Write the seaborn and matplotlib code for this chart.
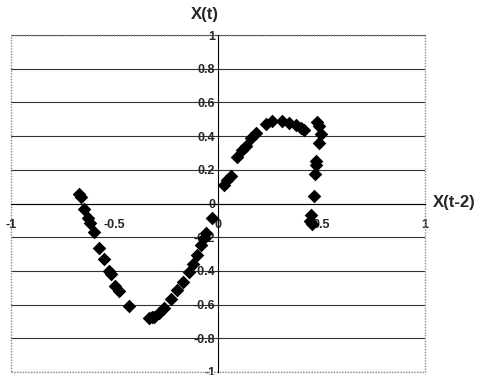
import matplotlib
matplotlib.use("Agg")
import matplotlib.pyplot as plt
import seaborn as sns
import pandas as pd
from matplotlib.patches import Rectangle

# X(t-2) values and X(t) values
x_lag = [-0.671, -0.662, -0.647, -0.628, -0.618, -0.599, -0.575, -0.551, -0.527, -0.517,
         -0.498, -0.478, -0.430, -0.333, -0.320, -0.309, -0.285, -0.261, -0.227, -0.198,
         -0.169, -0.140, -0.121, -0.101, -0.082, -0.068, -0.058, -0.029,
         0.029, 0.043, 0.063, 0.092, 0.116, 0.135, 0.159, 0.184, 0.232, 0.261, 0.309,
         0.343, 0.377, 0.401, 0.415, 0.478, 0.488, 0.498, 0.488, 0.473, 0.473, 0.469,
         0.464, 0.449, 0.444, 0.454]
x_t = [0.059, 0.036, -0.030, -0.089, -0.113, -0.172, -0.267, -0.332, -0.398, -0.421,
       -0.487, -0.522, -0.611, -0.677, -0.675, -0.671, -0.647, -0.623, -0.564, -0.516,
       -0.463, -0.409, -0.362, -0.303, -0.249, -0.202, -0.178, -0.089,
       0.107, 0.137, 0.166, 0.273, 0.315, 0.344, 0.386, 0.421, 0.469, 0.487, 0.487,
       0.475, 0.463, 0.451, 0.439, 0.481, 0.457, 0.415, 0.362, 0.255, 0.226, 0.178,
       0.042, -0.071, -0.101, -0.119]

x_ticks = [-1, -0.5, 0, 0.5, 1]
x_tick_labels = ["-1", "-0.5", "0", "0.5", "1"]
y_ticks = [-1, -0.8, -0.6, -0.4, -0.2, 0, 0.2, 0.4, 0.6, 0.8, 1]
y_tick_labels = ["-1", "-0.8", "-0.6", "-0.4", "-0.2", "0", "0.2", "0.4", "0.6", "0.8", "1"]

df = pd.DataFrame({"X(t-2)": x_lag, "X(t)": x_t})

sns.set_style("white")
plt.rcParams['font.family'] = ['Liberation Sans', 'DejaVu Sans']

fig = plt.figure(figsize=(4.91, 3.75), dpi=100)
ax = fig.add_axes([11/491, 1 - 372/375, (425 - 11)/491, (372 - 35)/375])

ax.set_xlim(-1, 1)
ax.set_ylim(-1, 1)

for yv in y_ticks:
    ax.axhline(yv, color="#333333", lw=0.8, zorder=0.5)

for side in ["top", "right"]:
    ax.spines[side].set_visible(False)
ax.spines["left"].set_position(("data", 0))
ax.spines["bottom"].set_position(("data", 0))
ax.spines["left"].set_color("black")
ax.spines["bottom"].set_color("black")
ax.spines["left"].set_linewidth(0.8)
ax.spines["bottom"].set_linewidth(0.8)

border = Rectangle((0, 0), 1, 1, transform=ax.transAxes, fill=False,
                   edgecolor="#888888", lw=1.0, ls=(0, (1, 1)), zorder=0.6, clip_on=False)
ax.add_patch(border)

ax.set_xticks(x_ticks)
ax.set_xticklabels(x_tick_labels, fontsize=9, fontweight="bold")
ax.set_yticks(y_ticks)
ax.set_yticklabels(y_tick_labels, fontsize=9, fontweight="bold")
ax.tick_params(axis="x", direction="in", length=3, pad=11)
ax.tick_params(axis="y", length=0, pad=2)

sns.scatterplot(data=df, x="X(t-2)", y="X(t)", ax=ax, marker="D", color="black",
                s=48, edgecolor="black", linewidth=0, zorder=3, legend=False)
ax.set_xlabel("")
ax.set_ylabel("")

fig.text(205/491, 1 - 15/375, "X(t)", ha="center", va="center", fontsize=12, fontweight="bold")
fig.text(433/491, 1 - 203/375, "X(t-2)", ha="left", va="center", fontsize=12, fontweight="bold")

fig.savefig("out.png", dpi=100)
